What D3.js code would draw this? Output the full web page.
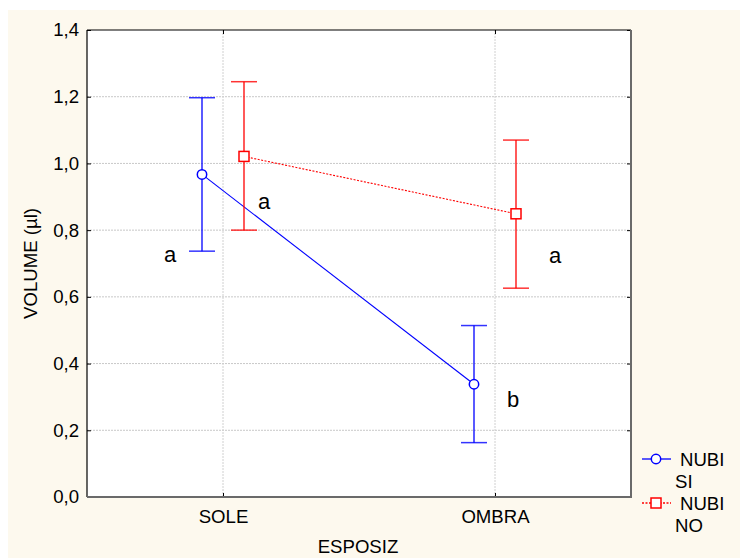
<!DOCTYPE html>
<html>
<head>
<meta charset="utf-8">
<script src="https://cdn.jsdelivr.net/npm/d3@7"></script>
<style>
  html, body { margin: 0; padding: 0; background: #ffffff; }
  svg text { font-family: "Liberation Sans", Arial, sans-serif; fill: #000; }
</style>
</head>
<body>
<svg id="chart" width="740" height="560"></svg>
<script>
// Categories on the x axis
const categories = ["SOLE", "OMBRA"];
// Series: NUBI = SI / NO
const seriesNames = ["NUBI\nSI", "NUBI\nNO"];
const meanSI = [0.967, 0.338];
const lowSI = [0.737, 0.163];
const highSI = [1.197, 0.514];
const meanNO = [1.021, 0.849];
const lowNO = [0.800, 0.626];
const highNO = [1.245, 1.070];
// Significance letters
const lettersSI = ["a", "b"];
const lettersNO = ["a", "a"];
const yTicks = [0, 0.2, 0.4, 0.6, 0.8, 1.0, 1.2, 1.4];

const svg = d3.select("#chart");
const W = 740, H = 560;
const plot = { left: 87, top: 30, right: 631, bottom: 497 };
const FS = 18.6;

// cream page background
svg.append("rect").attr("x", 8).attr("y", 10).attr("width", W - 8).attr("height", H - 12)
  .attr("fill", "#fdf9ee");

svg.append("rect").attr("x", plot.left).attr("y", plot.top)
  .attr("width", plot.right - plot.left).attr("height", plot.bottom - plot.top)
  .attr("fill", "#ffffff");

const x = d3.scalePoint().domain(categories).range([plot.left, plot.right]).padding(0.5);
const y = d3.scaleLinear().domain([0, 1.4]).range([plot.bottom, plot.top]);
const fmt = d => d3.format(".1f")(d).replace(".", ",");

// gridlines
const grid = svg.append("g");
grid.selectAll("line.h").data(yTicks.filter(t => t > 0 && t < 1.4)).join("line")
  .attr("x1", plot.left).attr("x2", plot.right)
  .attr("y1", d => y(d)).attr("y2", d => y(d))
  .attr("stroke", "#c8c8c8").attr("stroke-width", 1).attr("stroke-dasharray", "2,1");
grid.selectAll("line.v").data(categories).join("line")
  .attr("x1", d => x(d)).attr("x2", d => x(d))
  .attr("y1", plot.top).attr("y2", plot.bottom)
  .attr("stroke", "#d0d0d0").attr("stroke-width", 1).attr("stroke-dasharray", "2,1");

// axes
const yAxis = d3.axisLeft(y).tickValues(yTicks).tickFormat(fmt).tickSizeInner(-4).tickSizeOuter(0).tickPadding(8);
const gy = svg.append("g").attr("transform", `translate(${plot.left},0)`).call(yAxis);
gy.select(".domain").remove();
gy.attr("font-size", FS).attr("font-family", "Liberation Sans, Arial, sans-serif");
gy.selectAll("text").attr("font-size", FS);
gy.selectAll("line").attr("stroke", "#000");

const yAxisR = d3.axisRight(y).tickValues(yTicks).tickFormat("").tickSizeInner(-4).tickSizeOuter(0);
const gyr = svg.append("g").attr("transform", `translate(${plot.right},0)`).call(yAxisR);
gyr.select(".domain").remove();

const xAxis = d3.axisBottom(x).tickSizeInner(-4).tickSizeOuter(0).tickPadding(13);
const gx = svg.append("g").attr("transform", `translate(0,${plot.bottom})`).call(xAxis);
gx.select(".domain").remove();
gx.attr("font-size", FS).attr("font-family", "Liberation Sans, Arial, sans-serif");
gx.selectAll("text").attr("font-size", FS);

const xAxisT = d3.axisTop(x).tickFormat("").tickSizeInner(-4).tickSizeOuter(0);
const gxt = svg.append("g").attr("transform", `translate(0,${plot.top})`).call(xAxisT);
gxt.select(".domain").remove();

// frame: dark top/left, grey shadowed right/bottom
svg.append("line").attr("x1", plot.left).attr("x2", plot.right).attr("y1", plot.top).attr("y2", plot.top)
  .attr("stroke", "#000").attr("stroke-width", 1.2);
svg.append("line").attr("x1", plot.left).attr("x2", plot.left).attr("y1", plot.top).attr("y2", plot.bottom)
  .attr("stroke", "#000").attr("stroke-width", 1.2);
svg.append("line").attr("x1", plot.right).attr("x2", plot.right).attr("y1", plot.top).attr("y2", plot.bottom + 1)
  .attr("stroke", "#6a6a6a").attr("stroke-width", 2);
svg.append("line").attr("x1", plot.left).attr("x2", plot.right + 1).attr("y1", plot.bottom).attr("y2", plot.bottom)
  .attr("stroke", "#6a6a6a").attr("stroke-width", 2);

// axis titles
svg.append("text").attr("x", 358).attr("y", 553).attr("text-anchor", "middle")
  .attr("font-size", FS).text("ESPOSIZ");
svg.append("text").attr("transform", `translate(37,${(plot.top + plot.bottom) / 2}) rotate(-90)`)
  .attr("text-anchor", "middle").attr("font-size", FS).text("VOLUME (µl)");

// series
const series = [
  { name: seriesNames[0], mean: meanSI, low: lowSI, high: highSI, letters: lettersSI, color: "#0000ff", dash: null, offset: -21, shape: "circle" },
  { name: seriesNames[1], mean: meanNO, low: lowNO, high: highNO, letters: lettersNO, color: "#ff0000", dash: "2,1.5", offset: 21, shape: "square" }
];
// letter placement relative to each mean marker
const letterDx = [[-32, 39], [20, 39]];
const letterDy = [[88, 23], [53, 49]];

series.forEach((s, si) => {
  const g = svg.append("g");
  const px = (c) => x(c) + s.offset;
  const pts = categories.map((c, i) => [px(c), y(s.mean[i])]);
  g.append("path").attr("d", d3.line()(pts)).attr("fill", "none")
    .attr("stroke", s.color).attr("stroke-width", 1.1)
    .attr("stroke-dasharray", s.dash);
  categories.forEach((c, i) => {
    const cx = px(c);
    g.append("line").attr("x1", cx).attr("x2", cx).attr("y1", y(s.low[i])).attr("y2", y(s.high[i]))
      .attr("stroke", s.color).attr("stroke-width", 1.3);
    [s.low[i], s.high[i]].forEach(v => {
      g.append("line").attr("x1", cx - 13).attr("x2", cx + 13).attr("y1", y(v)).attr("y2", y(v))
        .attr("stroke", s.color).attr("stroke-width", 1.5).attr("stroke-opacity", 0.8);
    });
    if (s.shape === "circle") {
      g.append("circle").attr("cx", cx).attr("cy", y(s.mean[i])).attr("r", 4.7)
        .attr("fill", "#fff").attr("stroke", s.color).attr("stroke-width", 1.5);
    } else {
      g.append("rect").attr("x", cx - 5).attr("y", y(s.mean[i]) - 5).attr("width", 10).attr("height", 10)
        .attr("fill", "#fff").attr("stroke", s.color).attr("stroke-width", 1.5);
    }
    g.append("text").attr("x", cx + letterDx[si][i]).attr("y", y(s.mean[i]) + letterDy[si][i])
      .attr("text-anchor", "middle").attr("font-size", 22).text(s.letters[i]);
  });
});

// legend
const legend = svg.append("g");
series.forEach((s, i) => {
  const ly = 459 + i * 44;
  legend.append("line").attr("x1", 642).attr("x2", 671).attr("y1", ly).attr("y2", ly)
    .attr("stroke", s.color).attr("stroke-width", 1.3).attr("stroke-dasharray", s.dash);
  if (s.shape === "circle") {
    legend.append("circle").attr("cx", 656).attr("cy", ly).attr("r", 4.7)
      .attr("fill", "#ffffff").attr("stroke", s.color).attr("stroke-width", 1.5);
  } else {
    legend.append("rect").attr("x", 651).attr("y", ly - 5).attr("width", 10).attr("height", 10)
      .attr("fill", "#ffffff").attr("stroke", s.color).attr("stroke-width", 1.5);
  }
  const parts = s.name.split("\n");
  legend.append("text").attr("x", 680).attr("y", ly + 7).attr("font-size", FS).text(parts[0]);
  legend.append("text").attr("x", 675).attr("y", ly + 29).attr("font-size", FS).text(parts[1]);
});
</script>
</body>
</html>
